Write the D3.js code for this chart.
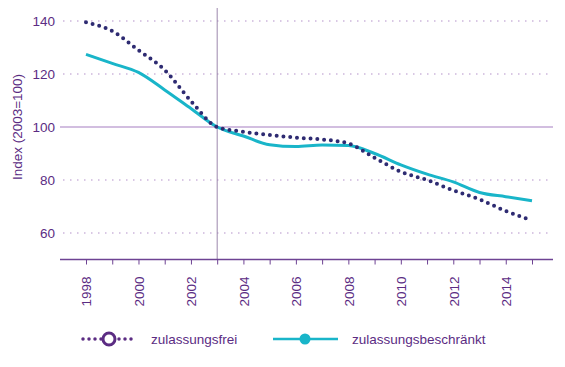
<!DOCTYPE html>
<html><head><meta charset="utf-8">
<script src="https://cdn.jsdelivr.net/npm/d3@7"></script>
<style>body{margin:0;background:#fff;} svg{display:block;}</style>
</head><body>
<svg id="c" width="565" height="367"></svg>
<script>
const years = [1998,1999,2000,2001,2002,2003,2004,2005,2006,2007,2008,2009,2010,2011,2012,2013,2014,2015];
const zulassungsfrei = [139.5,136.2,129,121.5,109.8,100,98.2,97,96,95.3,93.8,88.4,83.1,80,76.1,72.7,68.3,64.7];
const zulassungsbeschraenkt = [127.4,124,120.6,114,107,100,96.6,93.3,92.6,93.2,93,90,85.7,82.2,79.3,75.3,73.7,72.2];
const yTicks = [60,80,100,120,140];
const xLabelYears = [1998,2000,2002,2004,2006,2008,2010,2012,2014];
const seriesNames = ["zulassungsfrei","zulassungsbeschränkt"];

const purple = "#5b2c83", navy = "#2e2b72", teal = "#19b5c9";
const svg = d3.select("#c");
const font = "Liberation Sans, Arial, sans-serif";

const x = d3.scaleLinear().domain([1998,2015]).range([86,532]);
const y = d3.scaleLinear().domain([50,145]).range([259.5,7.75]);

// gridlines
yTicks.forEach(t=>{
  if(t===100){
    svg.append("line").attr("x1",60).attr("x2",553).attr("y1",y(t)).attr("y2",y(t))
      .attr("stroke","#c3a9d6").attr("stroke-width",1.5);
  } else {
    svg.append("line").attr("x1",63).attr("x2",550).attr("y1",y(t)).attr("y2",y(t))
      .attr("stroke","#cdb6dc").attr("stroke-width",1.5).attr("stroke-dasharray","1.5 5.5");
  }
});
// y labels
const yAxis = d3.axisLeft(y).tickValues(yTicks).tickSize(0).tickPadding(0);
const gy = svg.append("g").attr("transform","translate(55,0)").call(yAxis);
gy.select(".domain").remove();
gy.selectAll("text").attr("fill",purple).attr("font-family",font).attr("font-size",13.5);

svg.append("text").attr("transform",`translate(22,${y(100)}) rotate(-90)`)
  .attr("text-anchor","middle").attr("fill",purple).attr("font-family",font).attr("font-size",13.5)
  .text("Index (2003=100)");

// vertical line at 2003
svg.append("line").attr("x1",x(2003)).attr("x2",x(2003)).attr("y1",8).attr("y2",y(50))
  .attr("stroke","#9c88ad").attr("stroke-width",1);

// x axis
const xAxis = d3.axisBottom(x).tickValues(years).tickSize(5).tickFormat(d=> xLabelYears.includes(d)? d : "");
const gx = svg.append("g").attr("transform",`translate(0,${y(50)})`).call(xAxis);
gx.select(".domain").attr("d","M60,0H553").attr("stroke","#6e4393").attr("stroke-width",1.5);
gx.selectAll(".tick line").attr("stroke","#6e4393").attr("stroke-width",1);
gx.selectAll("text").attr("fill",purple).attr("font-family",font).attr("font-size",13.5)
  .attr("transform","rotate(-90)").attr("text-anchor","end").attr("x",-17).attr("y",0).attr("dy","0.35em");

const line = d3.line().x((d,i)=>x(years[i])).y(d=>y(d)).curve(d3.curveMonotoneX);
svg.append("path").attr("d",line(zulassungsbeschraenkt)).attr("fill","none")
  .attr("stroke",teal).attr("stroke-width",3);
svg.append("path").attr("d",line(zulassungsfrei)).attr("fill","none")
  .attr("stroke",navy).attr("stroke-width",4).attr("stroke-linecap","round").attr("stroke-dasharray","0 6.8");

// legend
const ly = 339;
svg.append("line").attr("x1",83).attr("x2",137).attr("y1",ly).attr("y2",ly)
  .attr("stroke",purple).attr("stroke-width",3.5).attr("stroke-linecap","round").attr("stroke-dasharray","0 6");
svg.append("circle").attr("cx",109).attr("cy",ly).attr("r",6).attr("fill","#fff").attr("stroke",purple).attr("stroke-width",3);
svg.append("text").attr("x",151).attr("y",ly+4.5).attr("fill",purple).attr("font-family",font).attr("font-size",13.5).text(seriesNames[0]);
svg.append("line").attr("x1",273).attr("x2",338).attr("y1",ly).attr("y2",ly).attr("stroke",teal).attr("stroke-width",2.5);
svg.append("circle").attr("cx",305).attr("cy",ly).attr("r",5.5).attr("fill",teal);
svg.append("text").attr("x",352).attr("y",ly+4.5).attr("fill",purple).attr("font-family",font).attr("font-size",13.5).text(seriesNames[1]);
</script>
</body></html>
